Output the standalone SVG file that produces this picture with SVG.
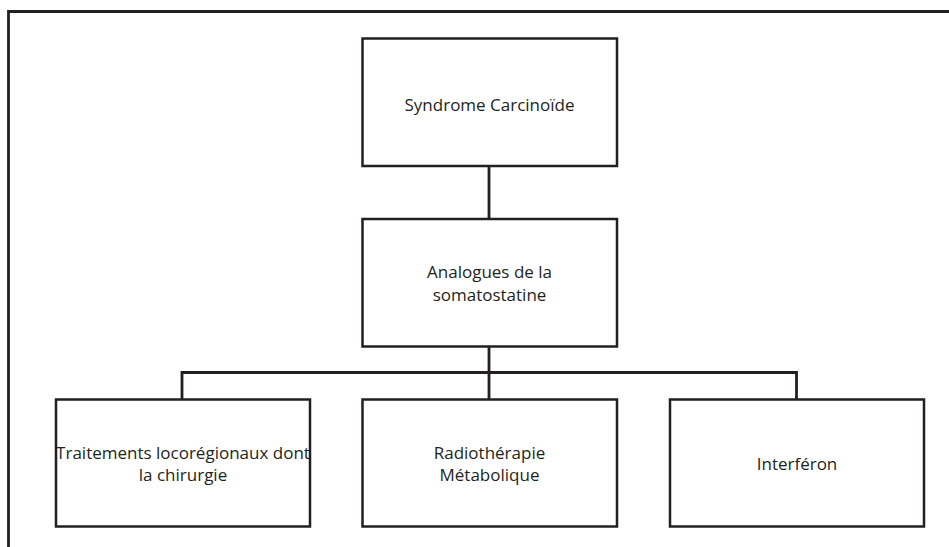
<svg xmlns="http://www.w3.org/2000/svg" width="949" height="547" viewBox="0 0 949 547">
  <style>
    .box { fill: #ffffff; stroke: #231f20; stroke-width: 2.5; }
    .wire { fill: none; stroke: #231f20; stroke-width: 2.8; }
    .frame { fill: none; stroke: #231f20; stroke-width: 2.8; }
    .lbl { font-family: "Open Sans", "Liberation Sans", sans-serif; font-size: 17px; fill: #231f20; text-anchor: middle; }
  </style>
  <rect width="949" height="547" fill="#ffffff"/>

  <!-- outer frame (top and left edges) -->
  <path class="frame" d="M 8.5 547 V 11.5 H 949"/>

  <!-- connectors -->
  <g id="connectors">
    <path class="wire" d="M 489 166 V 219"/>
    <path class="wire" d="M 489 346.5 V 399.5"/>
    <path class="wire" d="M 182 399.5 V 372.5 H 796.5 V 399.5"/>
  </g>

  <g id="node-syndrome">
    <rect class="box" x="362.5" y="38.5" width="254.5" height="127.5"/>
    <text class="lbl" x="489.5" y="111">Syndrome Carcinoïde</text>
  </g>

  <g id="node-analogues">
    <rect class="box" x="362.5" y="219" width="254.5" height="127.5"/>
    <text class="lbl" x="489.5" y="278">Analogues de la</text>
    <text class="lbl" x="489.5" y="301">somatostatine</text>
  </g>

  <g id="node-locoregional">
    <rect class="box" x="56" y="399.5" width="254" height="127"/>
    <text class="lbl" x="183" y="459">Traitements locorégionaux dont</text>
    <text class="lbl" x="183" y="481">la chirurgie</text>
  </g>

  <g id="node-radiotherapie">
    <rect class="box" x="362.5" y="399.5" width="254.5" height="127"/>
    <text class="lbl" x="489.5" y="458.5">Radiothérapie</text>
    <text class="lbl" x="489.5" y="480.5">Métabolique</text>
  </g>

  <g id="node-interferon">
    <rect class="box" x="670" y="399.5" width="254" height="127"/>
    <text class="lbl" x="797" y="470">Interféron</text>
  </g>
</svg>
